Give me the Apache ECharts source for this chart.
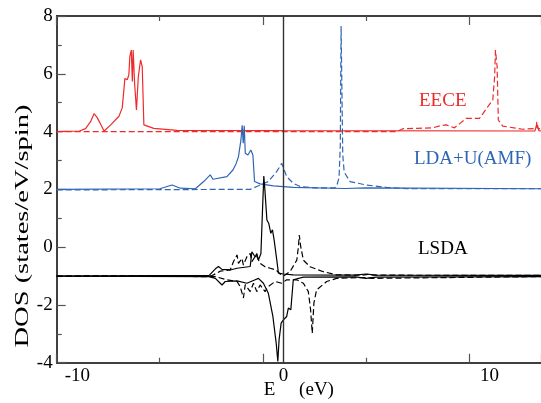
<!DOCTYPE html>
<html>
<head>
<meta charset="utf-8">
<script src="https://cdn.jsdelivr.net/npm/echarts@6/dist/echarts.min.js"></script>
<style>html,body{margin:0;padding:0;background:#fff}#c{width:541px;height:403px}</style>
</head>
<body>
<div id="c"></div>
<script>
var xRange = [-11, 12.5];
var yRange = [-4, 8];

// EECE (offset 4)
var eeceSolid = [[-11,4.0],[-9.9,4.02],[-9.6,4.1],[-9.35,4.35],[-9.19,4.62],[-9.05,4.5],[-8.9,4.3],[-8.7,4.02],[-8.38,4.23],[-7.98,4.53],[-7.82,4.82],[-7.69,5.84],[-7.58,5.79],[-7.5,5.96],[-7.45,6.6],[-7.38,6.82],[-7.33,5.73],[-7.29,6.82],[-7.22,5.67],[-7.13,4.75],[-7.04,5.9],[-6.93,6.48],[-6.85,6.25],[-6.77,4.23],[-6.29,4.11],[-5.16,4.04],[0,4.03],[12.2,4.02],[12.3,4.23],[12.4,4.03],[12.5,4.02]];
var eeceDashed = [[-11,4.0],[5.5,4.0],[5.8,4.1],[6.5,4.11],[7.26,4.13],[7.6,4.2],[7.9,4.23],[8.3,4.13],[8.6,4.3],[8.87,4.46],[9.52,4.46],[9.92,4.86],[10.16,5.09],[10.25,5.9],[10.29,6.82],[10.37,6.25],[10.43,4.4],[10.64,4.19],[11.6,4.08],[12.26,4.11],[12.3,4.34],[12.36,4.1],[12.5,4.1]];

// LDA+U(AMF) (offset 2)
var ldauSolid = [[-11,2.0],[-6.0,2.02],[-5.4,2.15],[-5.0,2.04],[-4.27,2.02],[-3.87,2.27],[-3.55,2.5],[-3.42,2.35],[-2.74,2.44],[-2.45,2.67],[-2.3,2.88],[-2.18,3.13],[-2.06,3.71],[-2.0,4.22],[-1.95,3.6],[-1.9,4.2],[-1.85,3.25],[-1.72,3.19],[-1.58,3.36],[-1.48,3.19],[-1.4,2.27],[-1.13,2.19],[-0.48,2.12],[0.48,2.07],[3,2.03],[4,2.05],[12.5,2.02]];
var ldauDashed = [[-11,1.98],[-1.6,2.0],[-1.29,2.1],[-0.73,2.27],[-0.32,2.62],[-0.08,2.9],[-0.05,2.95],[0.16,2.44],[0.48,2.21],[0.81,2.1],[1.5,2.05],[2.5,2.05],[2.6,2.15],[2.7,2.4],[2.76,3.5],[2.8,7.65],[2.85,7.6],[2.88,3.2],[2.95,2.6],[3.23,2.27],[4.03,2.15],[5.0,2.07],[6,2.02],[12.5,2.02]];

// LSDA (offset -1), up and down spin
var lsdaSolidUp = [[-11,-1],[-3.6,-0.98],[-3.3,-0.75],[-3.15,-0.67],[-2.98,-0.77],[-2.58,-0.79],[-2.25,-0.73],[-1.61,-0.67],[-1.53,-0.16],[-1.37,-0.34],[-1.29,-0.22],[-1.21,-0.45],[-1.09,-0.22],[-1.02,1.16],[-0.95,2.46],[-0.9,2.0],[-0.8,0.94],[-0.71,0.82],[-0.61,0.48],[-0.53,0.6],[-0.45,0.25],[-0.32,-0.45],[-0.24,-0.9],[0,-0.93],[0.48,-0.96],[3.5,-0.97],[4.0,-0.93],[4.5,-0.97],[12.5,-0.98]];
var lsdaSolidDown = [[-11,-1],[-3.6,-1.02],[-3.3,-1.08],[-2.98,-1.31],[-2.82,-1.19],[-2.25,-1.17],[-1.77,-1.25],[-1.37,-1.13],[-1.21,-1.08],[-0.97,-1.25],[-0.73,-1.6],[-0.51,-2.4],[-0.35,-3.32],[-0.27,-3.96],[-0.21,-3.21],[-0.11,-2.63],[0,-2.52],[0.16,-2.4],[0.24,-2.11],[0.36,-2.17],[0.48,-1.13],[0.97,-1.04],[3.5,-1.03],[4,-1.08],[4.5,-1.04],[12.5,-1.02]];
var lsdaDashedUp = [[-11,-1],[-3.5,-0.99],[-3.39,-0.96],[-3.06,-0.83],[-2.58,-0.79],[-2.42,-0.5],[-2.25,-0.27],[-2.18,-0.56],[-2.01,-0.39],[-1.94,-0.62],[-1.77,-0.33],[-1.61,-0.22],[-1.53,-0.5],[-1.32,-0.27],[-1.13,-0.56],[-0.89,-0.68],[-0.64,-0.73],[-0.35,-0.79],[-0.16,-0.93],[0,-1.0],[0.32,-0.85],[0.65,-0.45],[0.73,0.02],[0.77,0.42],[0.84,0.02],[0.97,-0.45],[1.29,-0.68],[1.94,-0.85],[2.58,-0.96],[3.8,-0.97],[4.1,-0.94],[4.4,-0.97],[12.5,-0.98]];
var lsdaDashedDown = [[-11,-1],[-3.3,-1.02],[-3.22,-1.08],[-2.74,-1.13],[-2.25,-1.19],[-2.1,-1.36],[-1.94,-1.76],[-1.85,-1.3],[-1.61,-1.54],[-1.45,-1.25],[-1.29,-1.54],[-1.13,-1.31],[-0.89,-1.54],[-0.73,-1.36],[-0.4,-1.19],[-0.08,-1.25],[0.16,-1.13],[0.65,-1.13],[0.97,-1.25],[1.21,-1.54],[1.32,-2.17],[1.4,-2.98],[1.48,-1.94],[1.61,-1.48],[2.1,-1.19],[2.58,-1.08],[4.0,-1.05],[4.3,-1.08],[12.5,-1.02]];

var labels = ['EECE', 'LDA+U(AMF)', 'LSDA'];
var yTitle = 'DOS (states/eV/spin)';
var xTitle = 'E     (eV)';
var RED = '#ee2a2a', BLUE = '#2f66b4', BLACK = '#000';
var FONT = 'Liberation Serif';

function line(name, data, color, dashed, extra) {
  var s = {
    name: name, type: 'line', data: data, showSymbol: false, symbol: 'none',
    lineStyle: { color: color, width: 1.2, type: dashed ? [6, 3] : 'solid' },
    silent: true, z: 3
  };
  if (extra) for (var k in extra) s[k] = extra[k];
  return s;
}

var chart = echarts.init(document.getElementById('c'), null, { renderer: 'canvas' });
chart.setOption({
  animation: false,
  backgroundColor: '#fff',
  grid: { left: 56.7, right: 0, top: 16, bottom: 40.3, containLabel: false, outerBoundsMode: 'none' },
  xAxis: [{
    type: 'value', min: xRange[0], max: xRange[1], interval: 10,
    position: 'bottom',
    name: xTitle, nameLocation: 'middle', nameGap: 18, nameMoveOverlap: false,
    nameTextStyle: { fontFamily: FONT, fontSize: 19, color: '#000' },
    axisLine: { show: true, onZero: false, lineStyle: { color: '#000', width: 1.5 } },
    axisTick: { show: true, inside: true, length: 9, lineStyle: { color: '#555', width: 1.2 } },
    minorTick: { show: true, splitNumber: 2, length: 5, lineStyle: { color: '#555', width: 1.2 } },
    axisLabel: { fontFamily: FONT, fontSize: 19, color: '#000', margin: 4,
      customValues: [-10, 0, 10] },
    splitLine: { show: false }
  }, {
    type: 'value', min: xRange[0], max: xRange[1], interval: 10,
    position: 'top',
    axisLine: { show: true, onZero: false, lineStyle: { color: '#000', width: 1.5 } },
    axisTick: { show: true, inside: true, length: 9, lineStyle: { color: '#555', width: 1.2 } },
    minorTick: { show: true, splitNumber: 2, length: 5, lineStyle: { color: '#555', width: 1.2 } },
    axisLabel: { show: false },
    splitLine: { show: false }
  }],
  yAxis: [{
    type: 'value', min: yRange[0], max: yRange[1], interval: 2,
    axisLine: { show: true, onZero: false, lineStyle: { color: '#000', width: 1.5 } },
    axisTick: { show: true, inside: true, length: 9, lineStyle: { color: '#555', width: 1.2 } },
    minorTick: { show: true, splitNumber: 2, length: 5, lineStyle: { color: '#555', width: 1.2 } },
    axisLabel: { fontFamily: FONT, fontSize: 19, color: '#000', margin: 4 },
    splitLine: { show: false }
  }],
  series: [
    line('EECE', eeceSolid, RED, false),
    line('EECE dashed', eeceDashed, RED, true),
    line('LDA+U(AMF)', ldauSolid, BLUE, false),
    line('LDA+U(AMF) dashed', ldauDashed, BLUE, true),
    line('LSDA up', lsdaSolidUp, BLACK, false, {
      markLine: { silent: true, symbol: 'none', label: { show: false },
        lineStyle: { color: '#333', width: 1.4, type: 'solid' },
        data: [{ xAxis: 0 }] }
    }),
    line('LSDA down', lsdaSolidDown, BLACK, false),
    line('LSDA dashed up', lsdaDashedUp, BLACK, true),
    line('LSDA dashed down', lsdaDashedDown, BLACK, true)
  ],
  graphic: [
    { type: 'text', x: 23, y: 226, rotation: Math.PI / 2, scaleX: 1.5, silent: true,
      style: { text: yTitle, fontFamily: FONT, fontSize: 19, fill: '#000',
        align: 'center', verticalAlign: 'middle' } },
    { type: 'text', left: 419, top: 92, silent: true,
      style: { text: labels[0], fontFamily: FONT, fontSize: 19, fill: RED } },
    { type: 'text', left: 414, top: 150, silent: true,
      style: { text: labels[1], fontFamily: FONT, fontSize: 19, fill: BLUE } },
    { type: 'text', left: 418, top: 240, silent: true,
      style: { text: labels[2], fontFamily: FONT, fontSize: 19, fill: BLACK } }
  ]
});
</script>
</body>
</html>
